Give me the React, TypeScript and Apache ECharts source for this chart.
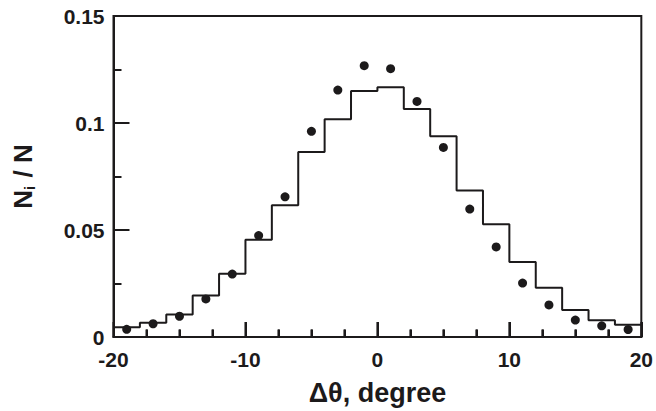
import React, { useEffect, useRef } from "react";
import * as echarts from "echarts";

// Histogram: left edges of 2-degree bins, and bin heights
const binEdges = [-20, -18, -16, -14, -12, -10, -8, -6, -4, -2, 0, 2, 4, 6, 8, 10, 12, 14, 16, 18, 20];
const histValues = [0.0045, 0.0067, 0.0105, 0.0194, 0.0296, 0.0455, 0.0616, 0.0864, 0.1017, 0.1149, 0.1167, 0.1065, 0.0938, 0.0684, 0.0527, 0.0350, 0.0230, 0.0126, 0.0078, 0.0057];

// Measured points at bin centres
const dotX = [-19, -17, -15, -13, -11, -9, -7, -5, -3, -1, 1, 3, 5, 7, 9, 11, 13, 15, 17, 19];
const dotValues = [0.0036, 0.0062, 0.0097, 0.0178, 0.0294, 0.0474, 0.0655, 0.0961, 0.1154, 0.1268, 0.1254, 0.1101, 0.0886, 0.0598, 0.0421, 0.0252, 0.0150, 0.0079, 0.0052, 0.0035];

// Tick values on the x axis (major and minor)
const xMajorTicks = [-20, -10, 0, 10, 20];
const xMinorTicks = [-17.5, -15, -12.5, -7.5, -5, -2.5, 2.5, 5, 7.5, 12.5, 15, 17.5];

const xTicks = { min: -20, max: 20, interval: 10 };
const yTicks = { min: 0, max: 0.15, interval: 0.05 };

const INK = "#1c1a1b";
const FONT = "'Liberation Sans', Arial, Helvetica, sans-serif";

function tickRenderer(len: number) {
  return (params: any, api: any) => {
    const p = api.coord([api.value(0), yTicks.min]);
    return {
      type: "line",
      shape: { x1: p[0], y1: p[1], x2: p[0], y2: p[1] - len },
      style: { stroke: INK, lineWidth: 2 },
    };
  };
}

function dotRenderer(params: any, api: any) {
  const p = api.coord([api.value(0), api.value(1)]);
  return {
    type: "circle",
    shape: { cx: p[0], cy: p[1], r: 4.5 },
    style: { fill: INK },
  };
}

export default function App() {
  const ref = useRef<HTMLDivElement>(null);

  useEffect(() => {
    if (!ref.current) return;
    const chart = echarts.init(ref.current, null, { renderer: "svg" });

    const stepData = binEdges.map((e, i) => [e, histValues[Math.min(i, histValues.length - 1)]]);
    const dots = dotX.map((x, i) => [x, dotValues[i]]);

    chart.setOption({
      animation: false,
      grid: {
        left: 108,
        right: 13,
        top: 16,
        bottom: 74,
        show: true,
        borderColor: INK,
        borderWidth: 2,
      },
      xAxis: {
        type: "value",
        min: xTicks.min,
        max: xTicks.max,
        interval: xTicks.interval,
        axisLine: { show: true, onZero: false, lineStyle: { color: INK, width: 2 } },
        axisTick: { show: true, inside: true, length: 15, lineStyle: { color: INK, width: 2 } },
        minorTick: { show: true, splitNumber: 4, length: 7.5, lineStyle: { color: INK, width: 2 } },
        splitLine: { show: false },
        axisLabel: { color: INK, fontSize: 21, fontWeight: "bold", fontFamily: FONT, margin: 12 },
        name: "Δθ, degree",
        nameLocation: "middle",
        nameGap: 42,
        nameTextStyle: { color: INK, fontSize: 27, fontWeight: "bold", fontFamily: FONT },
      },
      yAxis: {
        type: "value",
        min: yTicks.min,
        max: yTicks.max,
        interval: yTicks.interval,
        axisLine: { show: true, onZero: false, lineStyle: { color: INK, width: 2 } },
        axisTick: { show: true, inside: true, length: 16, lineStyle: { color: INK, width: 2 } },
        minorTick: { show: true, splitNumber: 2, length: 8, lineStyle: { color: INK, width: 2 } },
        splitLine: { show: false },
        axisLabel: { color: INK, fontSize: 21, fontWeight: "bold", fontFamily: FONT, margin: 9 },
        name: "{n|N}{s|i}{n| / N}",
        nameLocation: "middle",
        nameRotate: 90,
        nameGap: 76,
        nameTextStyle: {
          color: INK,
          fontFamily: FONT,
          rich: {
            n: { fontSize: 26, fontWeight: "bold", fontFamily: FONT, color: INK, lineHeight: 30 },
            s: { fontSize: 15, fontWeight: "bold", fontFamily: FONT, color: INK, lineHeight: 30, padding: [14, 1, 0, 0] },
          },
        },
      },
      series: [
        {
          type: "custom",
          data: xMajorTicks.map((v) => [v]),
          renderItem: tickRenderer(15),
          clip: false,
          silent: true,
          z: 1,
        },
        {
          type: "custom",
          data: xMinorTicks.map((v) => [v]),
          renderItem: tickRenderer(7.5),
          clip: false,
          silent: true,
          z: 1,
        },
        {
          type: "line",
          step: "end",
          data: stepData,
          showSymbol: false,
          lineStyle: { color: INK, width: 2 },
          z: 2,
        },
        {
          type: "custom",
          data: dots,
          renderItem: dotRenderer,
          silent: true,
          z: 3,
        },
      ],
    });

    return () => chart.dispose();
  }, []);

  return <div ref={ref} style={{ width: 656, height: 411, position: "absolute", left: 0, top: 0, background: "#ffffff" }} />;
}
